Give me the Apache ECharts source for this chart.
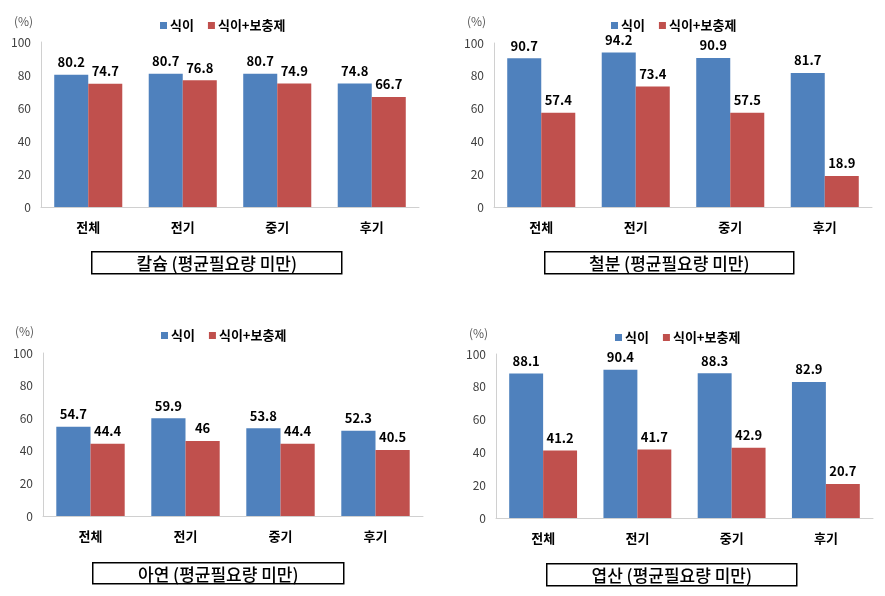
<!DOCTYPE html>
<html><head><meta charset="utf-8">
<script src="https://cdn.jsdelivr.net/npm/echarts@6/dist/echarts.min.js"></script>
<style>html,body{margin:0;padding:0;background:#fff}#c{width:885px;height:596px}</style>
</head><body><div id="c"></div>
<script>
const categories = ['전체', '전기', '중기', '후기'];
const seriesNames = ['식이', '식이+보충제'];
const panelTitles = ['칼슘 (평균필요량 미만)', '철분 (평균필요량 미만)', '아연 (평균필요량 미만)', '엽산 (평균필요량 미만)'];
const calciumDiet = [80.2, 80.7, 80.7, 74.8];
const calciumSupp = [74.7, 76.8, 74.9, 66.7];
const ironDiet = [90.7, 94.2, 90.9, 81.7];
const ironSupp = [57.4, 73.4, 57.5, 18.9];
const zincDiet = [54.7, 59.9, 53.8, 52.3];
const zincSupp = [44.4, 46, 44.4, 40.5];
const folateDiet = [88.1, 90.4, 88.3, 82.9];
const folateSupp = [41.2, 41.7, 42.9, 20.7];
const yTicks = [0, 20, 40, 60, 80, 100];

const panels = [
  {d: calciumDiet, s: calciumSupp, grid: {left: 41, top: 42, width: 378, height: 165}, legend: {left: 155, top: 14}, pct: [14, 15], box: [91, 251, 250, 22]},
  {d: ironDiet, s: ironSupp, grid: {left: 494, top: 43, width: 378, height: 164}, legend: {left: 606, top: 14}, pct: [467, 15], box: [544, 251, 249, 22]},
  {d: zincDiet, s: zincSupp, grid: {left: 43, top: 353, width: 380, height: 163}, legend: {left: 156, top: 324}, pct: [15, 325], box: [92, 562, 251, 21]},
  {d: folateDiet, s: folateSupp, grid: {left: 496, top: 354, width: 377, height: 164}, legend: {left: 610, top: 326}, pct: [469, 327], box: [546, 563, 250, 22]}
];
const FONT = '"Noto Sans CJK KR", "Noto Sans", sans-serif';
const colors = ['#4F81BD', '#C0504D'];

const option = {
  animation: false,
  textStyle: {fontFamily: FONT},
  grid: [], xAxis: [], yAxis: [], series: [], legend: [], graphic: []
};
panels.forEach((p, i) => {
  option.grid.push(p.grid);
  option.xAxis.push({
    type: 'category', gridIndex: i, data: categories,
    axisLine: {lineStyle: {color: '#d0d0d0'}}, axisTick: {show: false},
    axisLabel: {margin: 14, fontSize: 13, fontWeight: 'bold', color: '#000', fontFamily: FONT}
  });
  option.yAxis.push({
    type: 'value', gridIndex: i, min: yTicks[0], max: yTicks[yTicks.length - 1], interval: 20,
    axisLine: {show: true, lineStyle: {color: '#d0d0d0'}}, axisTick: {show: false}, splitLine: {show: false},
    axisLabel: {margin: 10, fontSize: 12, color: '#404040', fontFamily: FONT}
  });
  [p.d, p.s].forEach((vals, k) => {
    option.series.push({
      type: 'bar', name: seriesNames[k], xAxisIndex: i, yAxisIndex: i, data: vals,
      barGap: '0%', barCategoryGap: '28%',
      itemStyle: {color: colors[k]},
      label: {show: true, position: 'top', distance: 6, fontSize: 13, fontWeight: 'bold', color: '#000', fontFamily: FONT}
    });
  });
  option.legend.push({
    left: p.legend.left, top: p.legend.top, data: seriesNames, icon: 'rect', itemWidth: 7, itemHeight: 7, itemGap: 14,
    textStyle: {fontSize: 13, fontWeight: 'bold', color: '#000', fontFamily: FONT, padding: [0, 0, 0, -2]},
    selectedMode: false
  });
  option.graphic.push({
    type: 'text', left: p.pct[0], top: p.pct[1],
    style: {text: '(%)', fontSize: 12, fill: '#595959', fontFamily: FONT}
  });
  option.graphic.push({
    type: 'group', left: p.box[0], top: p.box[1],
    children: [
      {type: 'rect', shape: {x: 0, y: 0, width: p.box[2], height: p.box[3]}, style: {fill: '#fff', stroke: '#000', lineWidth: 1.5}},
      {type: 'text', x: p.box[2] / 2, y: p.box[3] / 2 + 1, style: {text: panelTitles[i], fontSize: 17, fontWeight: 500, fill: '#000', align: 'center', verticalAlign: 'middle', fontFamily: FONT}}
    ]
  });
});
echarts.init(document.getElementById('c')).setOption(option);
</script></body></html>
